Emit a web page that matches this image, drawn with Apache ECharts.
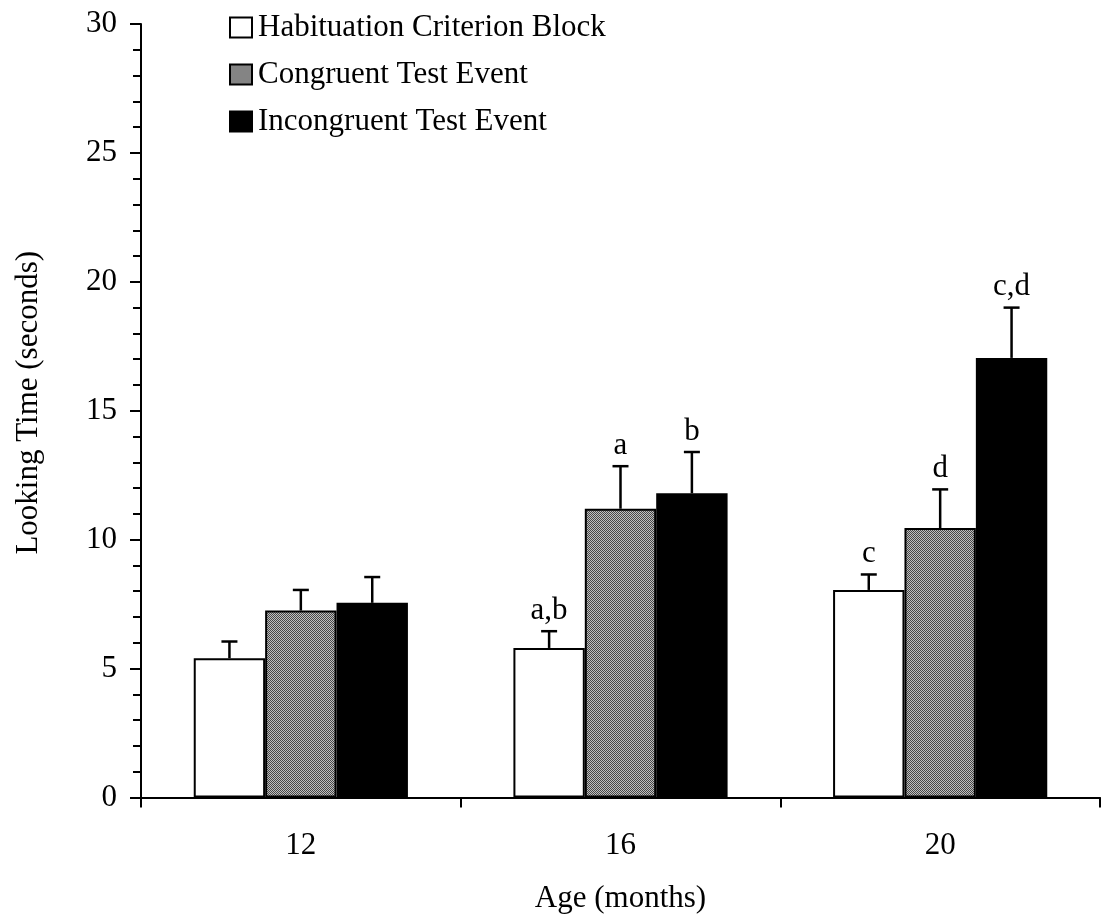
<!DOCTYPE html>
<html>
<head>
<meta charset="utf-8">
<script src="https://cdn.jsdelivr.net/npm/echarts@6/dist/echarts.min.js"></script>
<style>
html,body{margin:0;padding:0;background:#fff;}
#chart{width:1107px;height:922px;}
</style>
</head>
<body>
<div id="chart"></div>
<script>
// ---- data ----
var categories = ['12', '16', '20'];
var seriesNames = ['Habituation Criterion Block', 'Congruent Test Event', 'Incongruent Test Event'];
var habituation = [5.4, 5.8, 8.05];
var congruent = [7.25, 11.2, 10.45];
var incongruent = [7.55, 11.8, 17.05];
var habituationErr = [0.65, 0.65, 0.6];
var congruentErr = [0.8, 1.65, 1.5];
var incongruentErr = [1.0, 1.6, 1.95];
var habituationSig = ['', 'a,b', 'c'];
var congruentSig = ['', 'a', 'd'];
var incongruentSig = ['', 'b', 'c,d'];
var yTicks = [0, 5, 10, 15, 20, 25, 30];

// ---- styling helpers ----
var FONT = 'Liberation Serif, "Times New Roman", serif';
var FS = 31;
var CAT_GAP = 0.33;

function makeHatch() {
  var c = document.createElement('canvas');
  c.width = 4; c.height = 4;
  var ctx = c.getContext('2d');
  ctx.fillStyle = '#c0c0c0';
  ctx.fillRect(0, 0, 4, 4);
  ctx.fillStyle = '#484848';
  for (var i = 0; i < 4; i++) {
    for (var j = 0; j < 4; j++) {
      if ((i + j) % 2 === 0) ctx.fillRect(i, j, 1, 1);
    }
  }
  return c;
}
var hatch = makeHatch();

var values = [habituation, congruent, incongruent];
var errs = [habituationErr, congruentErr, incongruentErr];
var sigs = [habituationSig, congruentSig, incongruentSig];
var fills = ['#ffffff', { image: hatch, repeat: 'repeat' }, '#000000'];

var errItems = [];
for (var s = 0; s < 3; s++) {
  for (var c = 0; c < categories.length; c++) {
    errItems.push({ value: [c, values[s][c], errs[s][c], s], sig: sigs[s][c] });
  }
}

var barSeries = seriesNames.map(function (name, s) {
  return {
    name: name,
    type: 'bar',
    data: values[s],
    barGap: '0%',
    barCategoryGap: (CAT_GAP * 100) + '%',
    itemStyle: { color: fills[s], borderColor: '#000', borderWidth: 2 },
    emphasis: { disabled: true },
    z: 3
  };
});

var errSeries = {
  type: 'custom',
  name: 'err',
  data: errItems.map(function (d) { return d.value; }),
  encode: { x: 0, y: 1 },
  z: 2,
  silent: true,
  renderItem: function (params, api) {
    var it = errItems[params.dataIndex];
    var ci = it.value[0], v = it.value[1], e = it.value[2], si = it.value[3];
    var base = api.coord([ci, v]);
    var band = api.size([1, 0])[0];
    var bw = band * (1 - CAT_GAP) / 3;
    var x = base[0] + (si - 1) * bw;
    var top = api.coord([ci, v + e])[1];
    var half = 8;
    var children = [
      { type: 'line', shape: { x1: x, y1: base[1], x2: x, y2: top }, style: { stroke: '#000', lineWidth: 2.5 } },
      { type: 'line', shape: { x1: x - half, y1: top, x2: x + half, y2: top }, style: { stroke: '#000', lineWidth: 2.5 } }
    ];
    if (it.sig) {
      children.push({
        type: 'text',
        x: x, y: top - 5,
        style: { text: it.sig, fill: '#000', font: FS + 'px ' + FONT, textAlign: 'center', textVerticalAlign: 'bottom' }
      });
    }
    return { type: 'group', children: children };
  }
};

var chart = echarts.init(document.getElementById('chart'), null, { renderer: 'canvas' });
chart.setOption({
  animation: false,
  backgroundColor: '#fff',
  textStyle: { fontFamily: FONT, color: '#000' },
  grid: { left: 141, right: 7, top: 24, bottom: 124.5, containLabel: false },
  legend: {
    data: seriesNames,
    orient: 'vertical',
    left: 224,
    top: 7,
    itemWidth: 22,
    itemHeight: 20,
    itemGap: 16,
    icon: 'rect',
    selectedMode: false,
    textStyle: { fontFamily: FONT, fontSize: FS, color: '#000', padding: [0, 0, 0, 1] }
  },
  xAxis: {
    type: 'category',
    data: categories,
    name: 'Age (months)',
    nameLocation: 'middle',
    nameGap: 86,
    nameTextStyle: { fontFamily: FONT, fontSize: FS, color: '#000' },
    axisLine: { lineStyle: { color: '#000', width: 2 } },
    axisTick: { show: true, alignWithLabel: false, inside: false, length: 10, lineStyle: { color: '#000', width: 2 } },
    axisLabel: { margin: 33, fontFamily: FONT, fontSize: FS, color: '#000' },
    splitLine: { show: false }
  },
  yAxis: {
    type: 'value',
    min: yTicks[0],
    max: yTicks[yTicks.length - 1],
    interval: yTicks[1] - yTicks[0],
    name: 'Looking Time (seconds)',
    nameLocation: 'middle',
    nameGap: 97,
    nameTextStyle: { fontFamily: FONT, fontSize: FS, color: '#000', padding: [0, 0, 0, 16] },
    axisLine: { show: true, lineStyle: { color: '#000', width: 2 } },
    axisTick: { show: true, inside: false, length: 11, lineStyle: { color: '#000', width: 2 } },
    minorTick: { show: true, splitNumber: 5, length: 8, lineStyle: { color: '#000', width: 2 } },
    axisLabel: { margin: 24, fontFamily: FONT, fontSize: FS, color: '#000' },
    splitLine: { show: false },
    minorSplitLine: { show: false }
  },
  series: barSeries.concat([errSeries])
});
</script>
</body>
</html>
